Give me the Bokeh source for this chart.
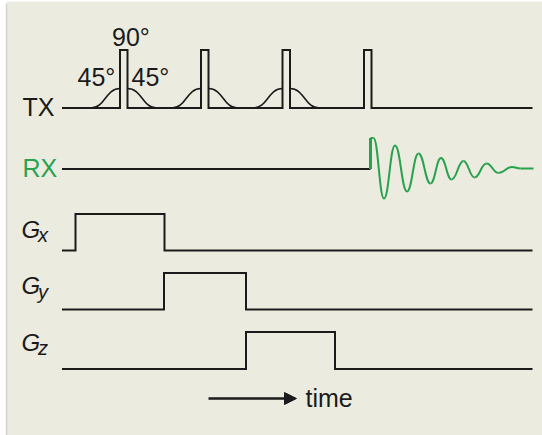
from bokeh.plotting import figure
from bokeh.models import Range1d, Arrow, NormalHead
from bokeh.core.properties import value
from bokeh.embed import file_html
from bokeh.resources import INLINE

# ---------------- data (time axis in drawing units) ----------------
t_start, t_end = 61.5, 532.0

# TX: hard pulses (start times) and their amplitude; 45° lobes on the first three
tx_pulse_start = [119.5, 200.5, 282.0, 363.5]
tx_pulse_width = 7.5
tx_pulse_amp = 58.0
tx_lobe_on = [True, True, True, False]
tx_lobe_halfwidth = 33.0
tx_lobe_amp = 19.5

# RX: decaying echo signal extrema (time, amplitude)
rx_t = [370.0, 373.0, 383.5, 394.5, 406.5, 418.0, 430.0, 440.5, 451.0,
        463.0, 474.0, 486.0, 498.0, 511.5, 520.0, 533.0]
rx_amp = [31.0, 31.0, -29.5, 23.5, -22.5, 15.5, -14.5, 11.0, -10.5,
          8.0, -8.5, 5.5, -4.0, 2.0, 0.5, 0.5]

# Gradients: on / off times and amplitude
grad_names = ["x", "y", "z"]
grad_on = [75.0, 163.5, 245.5]
grad_off = [164.0, 245.5, 334.5]
grad_amp = [36.5, 36.5, 37.0]

# ---------------- layout / style ----------------
W, H = 542, 435
BG = "#ecebe0"
INK = "#1b1b1b"
GREEN = "#27a24d"
FONT = value("Liberation Sans")
base_tx, base_rx = 107.5, 168.5
base_g = [250.0, 309.0, 368.5]
TY = -9.0  # text baseline correction

p = figure(width=W, height=H, x_range=Range1d(0, W), y_range=Range1d(H, 0),
           output_backend="svg", toolbar_location=None, min_border=0,
           x_axis_type=None, y_axis_type=None)
p.grid.visible = False
p.outline_line_color = None
p.background_fill_color = "white"
p.border_fill_color = "white"

p.quad(left=6.5, right=W, top=1, bottom=H, fill_color=BG, line_color=None)
p.segment(x0=6, y0=3, x1=6, y1=H, line_color="#d2d2d2", line_width=1.5)

# TX line
xs, ys = [t_start], [base_tx]
for s in tx_pulse_start:
    xs += [s, s, s + tx_pulse_width, s + tx_pulse_width]
    ys += [base_tx, base_tx - tx_pulse_amp, base_tx - tx_pulse_amp, base_tx]
xs.append(t_end)
ys.append(base_tx)
p.line(xs, ys, line_color=INK, line_width=2, line_join="miter")

# 45° lobes
bx0, by0, bx1, by1, bcx0, bcy0, bcx1, bcy1 = [], [], [], [], [], [], [], []
for s, on in zip(tx_pulse_start, tx_lobe_on):
    if not on:
        continue
    c = s + tx_pulse_width / 2
    peak = base_tx - tx_lobe_amp
    a, b = c - tx_lobe_halfwidth, s
    d = 0.5 * (b - a)
    bx0.append(a); by0.append(base_tx); bx1.append(b); by1.append(peak)
    bcx0.append(a + d); bcy0.append(base_tx); bcx1.append(b - d); bcy1.append(peak)
    a, b = s + tx_pulse_width, c + tx_lobe_halfwidth
    d = 0.5 * (b - a)
    bx0.append(a); by0.append(peak); bx1.append(b); by1.append(base_tx)
    bcx0.append(a + d); bcy0.append(peak); bcx1.append(b - d); bcy1.append(base_tx)
p.bezier(x0=bx0, y0=by0, x1=bx1, y1=by1, cx0=bcx0, cy0=bcy0, cx1=bcx1, cy1=bcy1,
         line_color=INK, line_width=1.6)

# RX
p.line([t_start, rx_t[0]], [base_rx, base_rx], line_color=INK, line_width=2)
p.line([rx_t[0], rx_t[0]], [base_rx, base_rx - rx_amp[0]], line_color=GREEN, line_width=3)
rx_y = [base_rx - a for a in rx_amp]
x0 = rx_t[:-1]; x1 = rx_t[1:]
y0 = rx_y[:-1]; y1 = rx_y[1:]
cx0 = [a + 0.45 * (b - a) for a, b in zip(x0, x1)]
cx1 = [b - 0.45 * (b - a) for a, b in zip(x0, x1)]
p.bezier(x0=x0, y0=y0, x1=x1, y1=y1, cx0=cx0, cy0=y0, cx1=cx1, cy1=y1,
         line_color=GREEN, line_width=2)

# Gradients
for on, off, amp, base in zip(grad_on, grad_off, grad_amp, base_g):
    p.line([t_start, on, on, off, off, t_end],
           [base, base, base - amp, base - amp, base, base],
           line_color=INK, line_width=2, line_join="miter")

# Labels
def txt(x, y, s, size, color=INK, style="normal", align="left"):
    p.text(x=[x], y=[y + TY], text=[s], text_font=FONT, text_font_size=size,
           text_color=color, text_baseline="alphabetic", text_align=align,
           text_font_style=style)

txt(22, 115, "TX", "25px")
txt(22, 176.5, "RX", "25px", color=GREEN)
txt(111.5, 45, "90°", "25px")
txt(77, 85, "45°", "25px")
txt(131, 85, "45°", "25px")
g_base = [237.5, 294.0, 350.5]
for nm, gb in zip(grad_names, g_base):
    txt(21, gb, "G", "24px", style="italic")
    txt(37.5, gb + 6, nm, "20px", style="italic")

p.add_layout(Arrow(end=NormalHead(size=12, fill_color=INK, line_color=INK),
                   x_start=208, y_start=398, x_end=296, y_end=398,
                   line_color=INK, line_width=2.5))
txt(305, 406, "time", "25px")

open("out.html", "w").write(file_html(p, INLINE))
